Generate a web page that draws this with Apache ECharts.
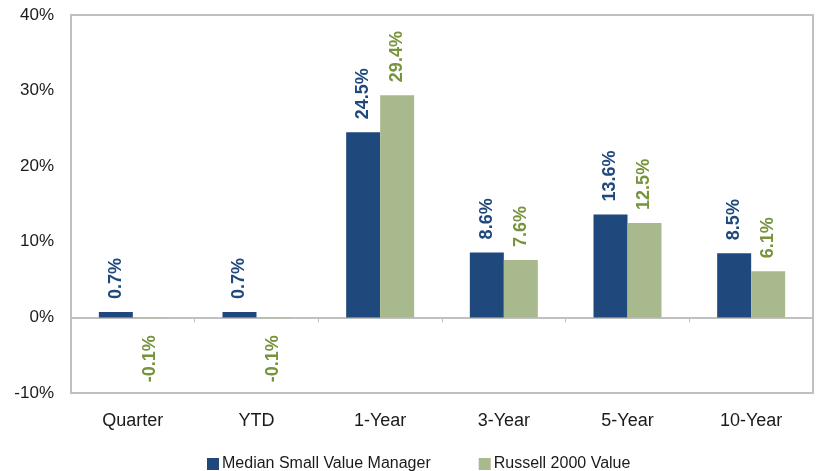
<!DOCTYPE html>
<html>
<head>
<meta charset="utf-8">
<script src="https://cdn.jsdelivr.net/npm/echarts@6/dist/echarts.min.js"></script>
<style>
  html, body { margin: 0; padding: 0; background: #ffffff; }
  #chart { width: 816px; height: 471px; }
</style>
</head>
<body>
<div id="chart"></div>
<script>
// Trailing-period returns (%)
const categories = ['Quarter', 'YTD', '1-Year', '3-Year', '5-Year', '10-Year'];
const managerName = 'Median Small Value Manager';
const indexName = 'Russell 2000 Value';
const managerValues = [0.7, 0.7, 24.5, 8.6, 13.6, 8.5];
const indexValues = [-0.1, -0.1, 29.4, 7.6, 12.5, 6.1];
const yTicks = { min: -10, max: 40, interval: 10 };

const FONT = '"Liberation Sans", Arial, sans-serif';
const BLUE = '#1F497D';
const GREEN_BAR = '#A8B98D';
const GREEN_TEXT = '#77933C';

function pctLabel(color) {
  return {
    show: true,
    rotate: 90,
    fontFamily: FONT,
    fontSize: 18,
    fontWeight: 'bold',
    color: color,
    distance: 13,
    verticalAlign: 'middle',
    formatter: p => p.value.toFixed(1) + '%'
  };
}

function withLabelSide(values, color) {
  return values.map(v => ({
    value: v,
    label: v < 0
      ? Object.assign(pctLabel(color), { position: 'bottom', align: 'right', distance: 17 })
      : Object.assign(pctLabel(color), { position: 'top', align: 'left' })
  }));
}

const chart = echarts.init(document.getElementById('chart'), null, { renderer: 'canvas' });
chart.setOption({
  animation: false,
  backgroundColor: '#ffffff',
  grid: {
    left: 71, right: 3, top: 15, bottom: 78,
    show: true, borderColor: '#C0C0C0', borderWidth: 2, backgroundColor: 'transparent'
  },
  legend: {
    left: 202, top: 451,
    itemWidth: 12, itemHeight: 12, itemGap: 48,
    icon: 'rect',
    textStyle: { fontFamily: FONT, fontSize: 16, color: '#1a1a1a', padding: [0, 0, 0, -2] },
    data: [managerName, indexName]
  },
  xAxis: [
    {
      type: 'category',
      data: categories,
      position: 'bottom',
      axisLine: { onZero: true, lineStyle: { color: '#C0C0C0', width: 2 } },
      axisTick: { show: true, length: 5, lineStyle: { color: '#C0C0C0', width: 1 } },
      axisLabel: { show: false }
    },
    {
      type: 'category',
      data: categories,
      position: 'bottom',
      axisLine: { show: false, onZero: false },
      axisTick: { show: false },
      axisLabel: { fontFamily: FONT, fontSize: 18, color: '#1a1a1a', margin: 19 }
    }
  ],
  yAxis: {
    type: 'value',
    min: yTicks.min, max: yTicks.max, interval: yTicks.interval,
    axisLine: { show: false },
    axisTick: { show: false },
    splitLine: { show: false },
    axisLabel: {
      fontFamily: FONT, fontSize: 17, color: '#1a1a1a', margin: 17,
      formatter: v => v + '%'
    }
  },
  series: [
    {
      name: managerName,
      type: 'bar',
      xAxisIndex: 0,
      data: withLabelSide(managerValues, BLUE),
      itemStyle: { color: BLUE },
      barWidth: 34,
      barGap: '0%'
    },
    {
      name: indexName,
      type: 'bar',
      xAxisIndex: 0,
      data: withLabelSide(indexValues, GREEN_TEXT),
      itemStyle: { color: GREEN_BAR },
      barWidth: 34,
      barGap: '0%'
    }
  ]
});
</script>
</body>
</html>
